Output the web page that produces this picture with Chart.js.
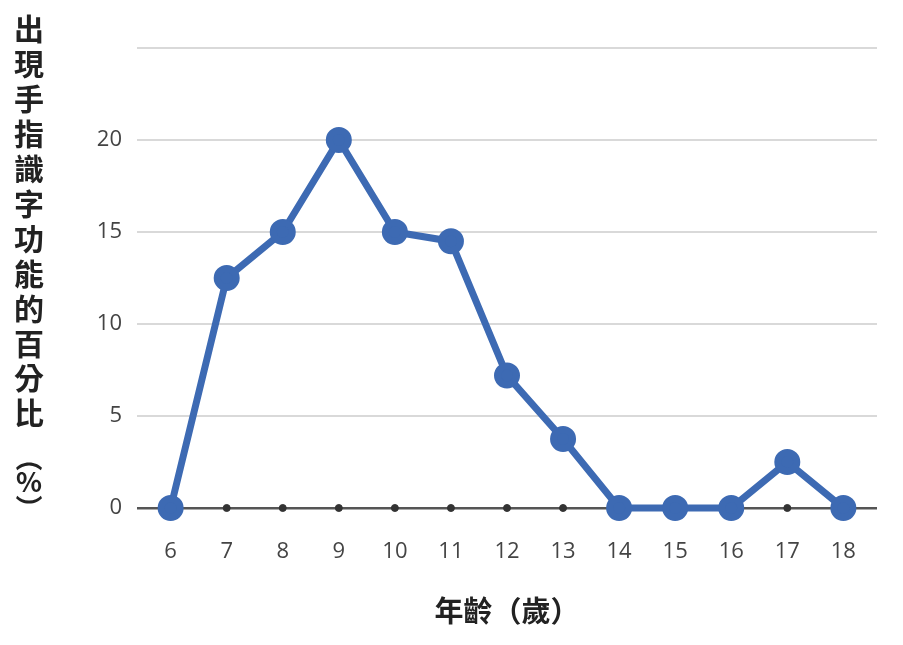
<!DOCTYPE html>
<html>
<head>
<meta charset="utf-8">
<script src="https://cdn.jsdelivr.net/npm/chart.js@4"></script>
<style>
  html, body { margin: 0; padding: 0; background: #fff; }
  #wrap { width: 903px; height: 645px; position: relative; }
</style>
</head>
<body>
<div id="wrap"><canvas id="ageChart"></canvas></div>
<script>
// chart data
var ages = [6, 7, 8, 9, 10, 11, 12, 13, 14, 15, 16, 17, 18];
var percents = [0, 12.5, 15, 20, 15, 14.5, 7.2, 3.75, 0, 0, 0, 2.5, 0];
var yTicks = [0, 5, 10, 15, 20, 25];
var yTitleChars = ['出', '現', '手', '指', '識', '字', '功', '能', '的', '百', '分', '比', '（', '%', '）'];
var xTitle = '年齡（歲）';

var cjk = '"Noto Sans CJK TC", "Noto Sans CJK SC", sans-serif';
var tickFont = '"Open Sans", "Noto Sans", sans-serif';

// draws the vertical y-axis title, one upright character per row
var verticalTitle = {
    id: 'verticalTitle',
    afterDraw: function (chart) {
        var ctx = chart.ctx;
        ctx.save();
        ctx.fillStyle = '#222';
        ctx.textAlign = 'center';
        ctx.textBaseline = 'middle';
        var extra = [458, 482, 508];
        yTitleChars.forEach(function (ch, i) {
            if (i >= 12) {
                ctx.font = 'bold 27px ' + cjk;
                ctx.save();
                ctx.translate(29, extra[i - 12]);
                // vertical writing: brackets turn a quarter
                if (ch !== '%') ctx.rotate(Math.PI / 2);
                ctx.fillText(ch, 0, 0);
                ctx.restore();
            } else {
                ctx.font = 'bold 30px ' + cjk;
                ctx.fillText(ch, 29, 29 + i * 34.9);
            }
        });
        ctx.restore();
    }
};

document.addEventListener("DOMContentLoaded", function () {
    var ctx = document.getElementById('ageChart').getContext('2d');
    new Chart(ctx, {
        type: 'line',
        data: {
            datasets: [{
                data: ages.map(function (a, i) { return { x: a, y: percents[i] }; }),
                borderColor: '#3d6ab3',
                backgroundColor: '#3d6ab3',
                borderWidth: 7,
                pointRadius: 9.5,
                pointHoverRadius: 9.5,
                tension: 0,
                clip: false,
                order: 0
            }, {
                // small dark markers sitting on the zero line
                data: ages.map(function (a) { return { x: a, y: 0 }; }),
                showLine: false,
                pointRadius: 3.5,
                pointHoverRadius: 3.5,
                backgroundColor: '#333',
                borderColor: '#333',
                borderWidth: 1,
                clip: false,
                order: 1
            }]
        },
        options: {
            responsive: true,
            maintainAspectRatio: false,
            animation: false,
            layout: { padding: { top: 48, right: 26, left: 0, bottom: 0 } },
            plugins: {
                legend: { display: false },
                tooltip: { enabled: false }
            },
            scales: {
                x: {
                    type: 'linear',
                    min: 5.4,
                    max: 18.6,
                    afterBuildTicks: function (scale) {
                        scale.ticks = ages.map(function (a) { return { value: a }; });
                    },
                    afterFit: function (scale) { scale.height = 137; },
                    grid: { display: false, drawTicks: false },
                    border: { display: false },
                    ticks: {
                        padding: 31,
                        autoSkip: false,
                        maxRotation: 0,
                        color: '#444',
                        font: { family: tickFont, size: 22 }
                    },
                    title: {
                        display: true,
                        text: xTitle,
                        color: '#222',
                        font: { family: cjk, size: 29, weight: 'bold' },
                        padding: { top: 0, bottom: 17 }
                    }
                },
                y: {
                    min: 0,
                    max: 25,
                    afterBuildTicks: function (scale) {
                        scale.ticks = yTicks.map(function (v) { return { value: v }; });
                    },
                    afterFit: function (scale) { scale.width = 137; },
                    border: { display: false },
                    grid: {
                        drawTicks: false,
                        color: function (c) { return c.tick && c.tick.value === 0 ? '#555' : '#d9d9d9'; },
                        lineWidth: function (c) { return c.tick && c.tick.value === 0 ? 2.5 : 2; }
                    },
                    ticks: {
                        padding: 15,
                        color: '#444',
                        font: { family: tickFont, size: 22 },
                        callback: function (v) { return v === 25 ? '' : v; }
                    }
                }
            }
        },
        plugins: [verticalTitle]
    });
});
</script>
</body>
</html>
